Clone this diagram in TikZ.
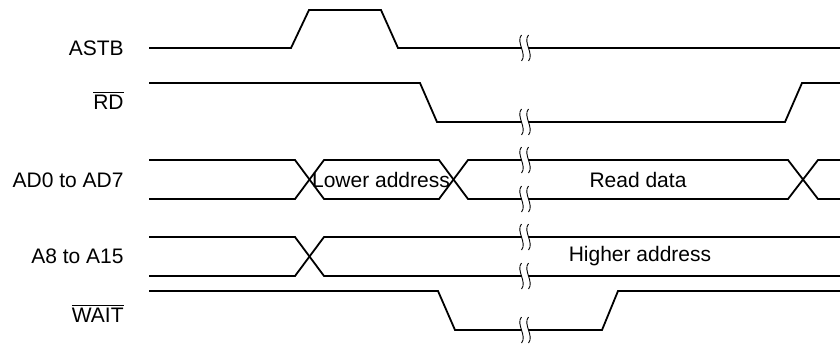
\documentclass[tikz,border=0pt]{standalone}
\usepackage{fontspec}
\setmainfont{Liberation Sans}
\usepackage{tikz}
\usetikzlibrary{calc}

\begin{document}
\begin{tikzpicture}[
  x=0.5pt, y=-0.5pt, font=\fontsize{10.5}{12}\selectfont,
  sig/.style={line width=0.9pt, line join=miter},
  lbl/.style={anchor=east, inner sep=0pt},
  txt/.style={inner sep=0pt},
  brk/.pic={
    \fill[white] (-3.5,-13) .. controls (-9.5,-6) and (2.5,6) .. (-3.5,13)
      -- (3.5,13) .. controls (9.5,6) and (-2.5,-6) .. (3.5,-13) -- cycle;
    \draw[line width=0.45pt] (-3.5,-13) .. controls (-9.5,-6) and (2.5,6) .. (-3.5,13);
    \draw[line width=0.45pt] (3.5,-13) .. controls (-2.5,-6) and (9.5,6) .. (3.5,13);
  },
]
  \useasboundingbox (0,0) rectangle (840,343);

  % signal names
  \node[lbl] (astb) at (124,48) {ASTB};
  \node[lbl] (rd) at (124,100) {$\overline{\mbox{RD}}$};
  \node[lbl] (adlo) at (124,180) {AD0 to AD7};
  \node[lbl] (adhi) at (124,256) {A8 to A15};
  \node[lbl] (wait) at (124,313) {$\overline{\mbox{WAIT}}$};

  % ASTB
  \draw[sig] (149,48) -- (291,48) -- (309,10) -- (381,10) -- (398,48) -- (840,48);
  % RD
  \draw[sig] (149,83) -- (420,83) -- (437,122) -- (785,122) -- (802,83) -- (840,83);
  % AD0 to AD7
  \draw[sig] (149,160) -- (295,160) -- (324,199) -- (439,199) -- (468,160)
    -- (788,160) -- (818,199) -- (840,199);
  \draw[sig] (149,199) -- (295,199) -- (324,160) -- (439,160) -- (468,199)
    -- (788,199) -- (818,160) -- (840,160);
  % A8 to A15
  \draw[sig] (149,237) -- (295,237) -- (324,276) -- (840,276);
  \draw[sig] (149,276) -- (295,276) -- (324,237) -- (840,237);
  % WAIT
  \draw[sig] (149,291) -- (438,291) -- (455,330) -- (602,330) -- (618,291) -- (840,291);

  % bus contents
  \node[txt] (lowaddr) at (381,180) {Lower address};
  \node[txt] (rdata) at (638,180) {Read data};
  \node[txt] (hiaddr) at (640,256) {Higher address};

  % time breaks
  \foreach \y in {48,122,160,199,237,276,330}
    \pic at (525,\y) {brk};
\end{tikzpicture}
\end{document}
